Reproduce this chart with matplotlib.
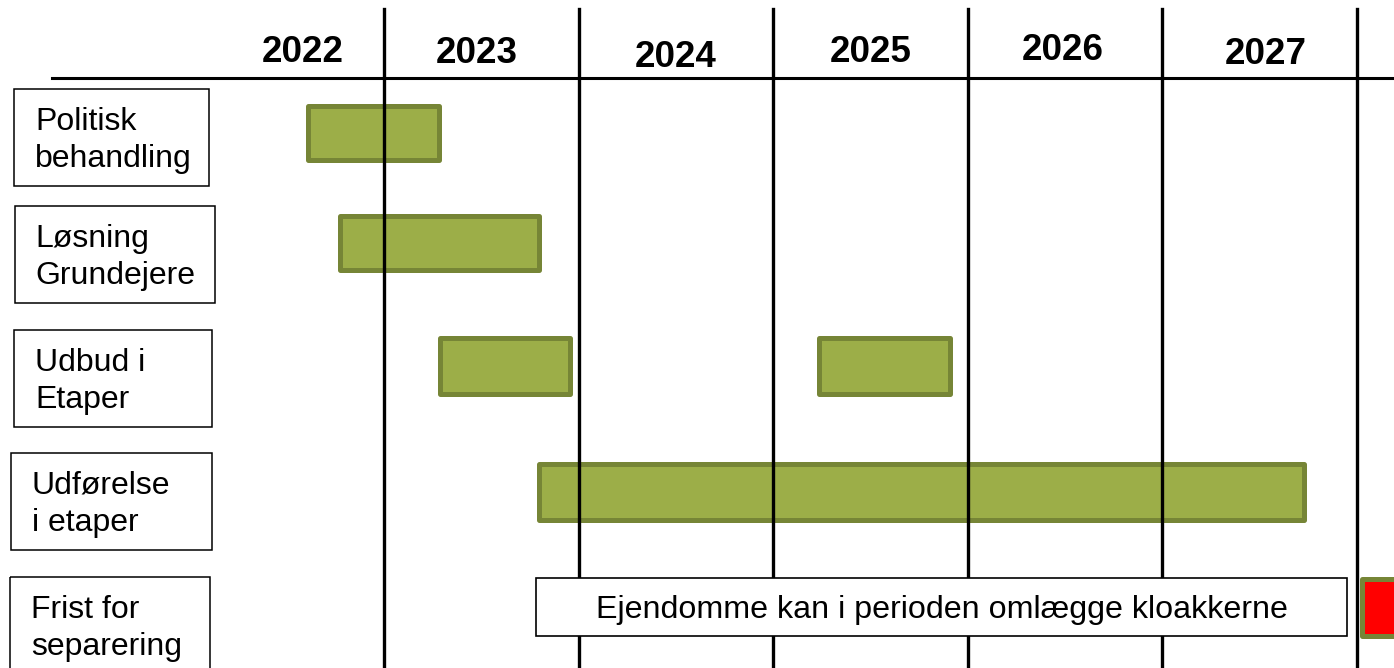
import matplotlib.pyplot as plt
from matplotlib.patches import Rectangle

plt.rcParams['font.family'] = ['Liberation Sans', 'DejaVu Sans']

# data
years = [2022, 2023, 2024, 2025, 2026, 2027]
year_label_x = [2022.58, 2023.475, 2024.50, 2025.50, 2026.49, 2027.53]
year_lines = [2023, 2024, 2025, 2026, 2027, 2028]

tasks = ['Politisk\nbehandling', 'Løsning\nGrundejere', 'Udbud i\nEtaper',
         'Udførelse\ni etaper', 'Frist for\nseparering']
# (row, start, end) in years
bar_rows = [0, 1, 2, 2, 3]
bar_start = [2022.612, 2022.776, 2023.290, 2025.233, 2023.794]
bar_end = [2023.285, 2023.794, 2023.958, 2025.906, 2027.730]

deadline_start = 2028.028
deadline_end = 2028.35
period_start = 2023.78
period_end = 2027.95
period_text = 'Ejendomme kan i perioden omlægge kloakkerne'

# layout (pixels)
W, H = 1394, 668
SCALE = 194.6
X0 = 2023 - 384 / SCALE
row_top = [105.5, 215.5, 338.0, 463.5, 578.5]
row_bot = [159.5, 269.5, 393.5, 519.5, 635.5]
label_boxes = [(14, 209, 89, 186), (15, 215, 206, 303), (14, 212, 330, 427),
               (11, 212, 453, 550), (10, 210, 577, 690)]
label_text_x = [35, 35, 35, 32, 31]
year_base = [62, 63, 67, 62, 60, 64]

GREEN = '#9cae48'
GREEN_EDGE = '#768536'


def px(x):
    return X0 + x / SCALE


fig = plt.figure(figsize=(W / 100, H / 100), dpi=100)
ax = fig.add_axes([0, 0, 1, 1])
ax.set_xlim(px(0), px(W))
ax.set_ylim(H, 0)
ax.axis('off')

# header line + year grid
ax.plot([px(52), px(W)], [78, 78], color='black', lw=2.2, zorder=3)
for yr in year_lines:
    ax.plot([yr, yr], [9, H], color='black', lw=2.4, zorder=3)
for yr, x, yb in zip(years, year_label_x, year_base):
    ax.text(x, yb, str(yr), ha='center', va='baseline', fontsize=26.5,
            fontweight='bold', zorder=4)

# task labels on the left
for i, name in enumerate(tasks):
    x0, x1, y0, y1 = label_boxes[i]
    ax.add_patch(Rectangle((px(x0), y0), px(x1) - px(x0), y1 - y0, fill=False,
                           edgecolor='black', lw=1.1, zorder=4))
    lines = name.split('\n')
    for j, line in enumerate(lines):
        ax.text(px(label_text_x[i]), y0 + 41 + 37 * j, line, ha='left',
                va='baseline', fontsize=23, zorder=5)

# green bars
for r, s, e in zip(bar_rows, bar_start, bar_end):
    ax.add_patch(Rectangle((s, row_top[r]), e - s, row_bot[r] - row_top[r],
                           facecolor=GREEN, edgecolor=GREEN_EDGE, lw=3.6,
                           joinstyle='round', zorder=2))

# period box and red deadline
r = 4
ax.add_patch(Rectangle((period_start, 577.5), period_end - period_start, 58,
                       facecolor='white', edgecolor='black', lw=1.2, zorder=5))
ax.text((period_start + period_end) / 2, 618, period_text, ha='center',
        va='baseline', fontsize=23.2, zorder=6)
ax.add_patch(Rectangle((deadline_start, row_top[r]), deadline_end - deadline_start,
                       row_bot[r] - row_top[r], facecolor='#ff0000',
                       edgecolor=GREEN_EDGE, lw=3.6, joinstyle='round', zorder=5))

fig.savefig('out.png', dpi=100)
